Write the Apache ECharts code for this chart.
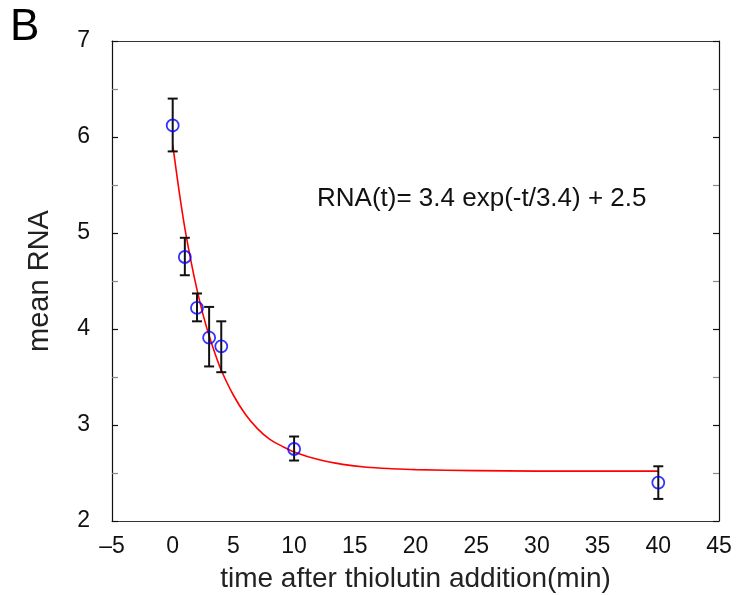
<!DOCTYPE html>
<html>
<head>
<meta charset="utf-8">
<script src="https://cdn.jsdelivr.net/npm/echarts@6/dist/echarts.min.js"></script>
<style>
html,body{margin:0;padding:0;background:#fff;}
#chart{width:738px;height:595px;}
</style>
</head>
<body>
<div id="chart"></div>
<script>
// Measured data points (time in min, mean RNA)
var times = [0, 1, 2, 3, 4, 10, 40];
var means = [6.12, 4.75, 4.22, 3.91, 3.82, 2.75, 2.40];
var errLow = [5.85, 4.56, 4.08, 3.61, 3.55, 2.63, 2.23];
var errHigh = [6.40, 4.95, 4.37, 4.23, 4.08, 2.88, 2.57];

// Fitted curve
var curveT = [0, 0.5, 1, 1.5, 2, 2.5, 3, 3.5, 4, 5, 6, 7, 8, 9, 10, 12, 14, 16, 18, 20, 25, 30, 35, 40];
var curveY = [5.92, 5.46, 5.05, 4.71, 4.41, 4.15, 3.93, 3.74, 3.57, 3.31, 3.11, 2.96, 2.85, 2.78, 2.72, 2.64, 2.59, 2.56, 2.545, 2.535, 2.525, 2.52, 2.52, 2.52];

var xTicks = [-5, 0, 5, 10, 15, 20, 25, 30, 35, 40, 45];
var yTicks = [2, 3, 4, 5, 6, 7];

var annotation = 'RNA(t)= 3.4 exp(-t/3.4) + 2.5';
var panelLetter = 'B';
var xTitle = 'time after thiolutin addition(min)';
var yTitle = 'mean RNA';

var FONT = '"Liberation Sans", Arial, Helvetica, sans-serif';

var chart = echarts.init(document.getElementById('chart'), null, {renderer: 'canvas'});

var scatterData = times.map(function (t, i) { return [t, means[i]]; });
var errData = times.map(function (t, i) { return [t, errLow[i], errHigh[i]]; });
var curveData = curveT.map(function (t, i) { return [t, curveY[i]]; });

function fmtX(v) { return v < 0 ? '\u2013' + Math.abs(v) : String(v); }

var option = {
  animation: false,
  backgroundColor: '#ffffff',
  grid: {left: 112, right: 19, top: 41, bottom: 74, containLabel: false, outerBoundsMode: 'none'},
  xAxis: [{
    type: 'value', min: xTicks[0], max: xTicks[xTicks.length - 1], interval: 5,
    axisLine: {show: true, onZero: false, lineStyle: {color: '#333', width: 1.2}},
    axisTick: {show: false},
    splitLine: {show: false},
    axisLabel: {fontFamily: FONT, fontSize: 23, color: '#111', margin: 14, formatter: fmtX},
    name: xTitle, nameLocation: 'middle', nameGap: 44,
    nameTextStyle: {fontFamily: FONT, fontSize: 28, color: '#222'}
  }, {
    type: 'value', position: 'top', min: xTicks[0], max: xTicks[xTicks.length - 1], interval: 5,
    axisLine: {show: true, onZero: false, lineStyle: {color: '#333', width: 1.2}},
    axisTick: {show: false}, axisLabel: {show: false}, splitLine: {show: false}
  }],
  yAxis: [{
    type: 'value', min: yTicks[0], max: yTicks[yTicks.length - 1], interval: 1,
    axisLine: {show: true, onZero: false, lineStyle: {color: '#111', width: 1.2}},
    axisTick: {show: true, inside: true, length: 6, lineStyle: {color: '#111', width: 1.2}},
    minorTick: {show: true, splitNumber: 2, length: 6, lineStyle: {color: '#888', width: 1.2}},
    splitLine: {show: false},
    axisLabel: {fontFamily: FONT, fontSize: 23, color: '#111', margin: 22},
    name: yTitle, nameLocation: 'middle', nameGap: 58,
    nameTextStyle: {fontFamily: FONT, fontSize: 29, color: '#222'}
  }, {
    type: 'value', position: 'right', min: yTicks[0], max: yTicks[yTicks.length - 1], interval: 1,
    axisLine: {show: true, onZero: false, lineStyle: {color: '#111', width: 1.2}},
    axisTick: {show: true, inside: true, length: 6, lineStyle: {color: '#111', width: 1.2}},
    minorTick: {show: true, splitNumber: 2, length: 6, lineStyle: {color: '#888', width: 1.2}},
    splitLine: {show: false}, axisLabel: {show: false}
  }],
  graphic: [{
    type: 'text', left: 10, top: 6,
    style: {text: panelLetter, font: '44px ' + FONT, fill: '#000'}
  }, {
    type: 'text', left: 317, top: 186,
    style: {text: annotation, font: '26px ' + FONT, fill: '#111'}
  }],
  series: [{
    type: 'line', data: curveData, smooth: 0.3, showSymbol: false, symbol: 'none',
    lineStyle: {color: '#ff0000', width: 1.6}, z: 1
  }, {
    type: 'custom', data: errData, z: 2,
    renderItem: function (params, api) {
      var x = api.value(0);
      var lo = api.coord([x, api.value(1)]);
      var hi = api.coord([x, api.value(2)]);
      var hw = 5;
      var st = {stroke: '#111', lineWidth: 2};
      return {
        type: 'group',
        children: [
          {type: 'line', shape: {x1: lo[0], y1: lo[1], x2: hi[0], y2: hi[1]}, style: st},
          {type: 'line', shape: {x1: lo[0] - hw, y1: lo[1], x2: lo[0] + hw, y2: lo[1]}, style: st},
          {type: 'line', shape: {x1: hi[0] - hw, y1: hi[1], x2: hi[0] + hw, y2: hi[1]}, style: st}
        ]
      };
    }
  }, {
    type: 'scatter', data: scatterData, symbol: 'circle', symbolSize: 12, z: 3,
    itemStyle: {color: 'rgba(0,0,0,0)', borderColor: '#0000ff', borderWidth: 1.8}
  }]
};
chart.setOption(option);
</script>
</body>
</html>
